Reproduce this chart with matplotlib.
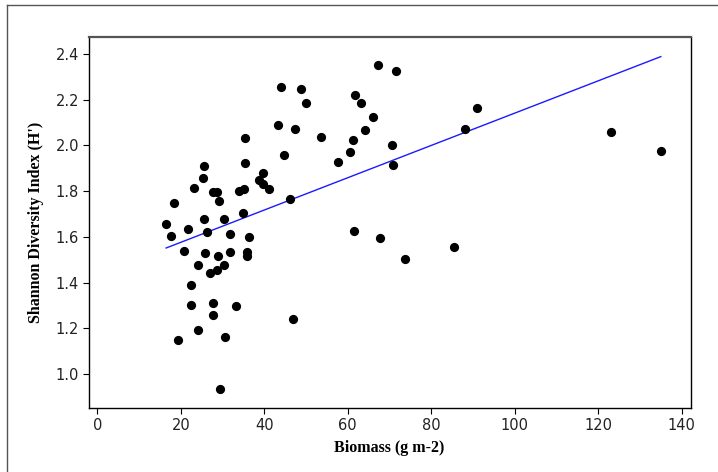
import numpy as np
import matplotlib.pyplot as plt
from matplotlib.lines import Line2D

# biomass (g m-2) and Shannon index per plot
biomass = [16.5, 17.7, 18.3, 19.3, 20.7, 21.7, 22.5, 22.5, 23.2, 24.1,
           24.1, 25.3, 25.6, 25.6, 25.9, 26.4, 27.1, 27.7, 27.7, 27.7,
           28.7, 28.8, 28.9, 29.2, 29.5, 30.4, 30.3, 30.7, 31.8, 31.9,
           33.3, 33.9, 35.2, 34.9, 35.4, 35.4, 35.8, 35.8, 36.4, 38.8,
           39.6, 39.7, 41.2, 43.2, 43.9, 44.8, 46.2, 46.9, 47.4, 48.7,
           50.1, 53.7, 57.6, 60.6, 61.2, 61.5, 61.8, 63.1, 64.2, 66.0,
           67.3, 67.8, 70.5, 70.8, 71.5, 73.6, 85.5, 88.2, 90.9, 123.0,
           135.0]
shannon = [1.658, 1.602, 1.749, 1.149, 1.539, 1.636, 1.389, 1.302, 1.812, 1.476,
           1.191, 1.855, 1.910, 1.678, 1.528, 1.619, 1.440, 1.310, 1.260, 1.796,
           1.796, 1.453, 1.514, 1.755, 0.934, 1.678, 1.476, 1.160, 1.614, 1.534,
           1.297, 1.801, 1.808, 1.706, 2.034, 1.921, 1.532, 1.518, 1.599, 1.849,
           1.877, 1.831, 1.808, 2.087, 2.253, 1.957, 1.764, 1.239, 2.071, 2.247,
           2.183, 2.038, 1.925, 1.973, 2.023, 1.626, 2.221, 2.183, 2.066, 2.124,
           2.350, 1.594, 2.001, 1.916, 2.323, 1.502, 1.556, 2.071, 2.162, 2.060,
           1.974]

# linear fit H' = a + b * biomass
fit_intercept = 1.4345
fit_slope = 0.007063

x_ticks = [0, 20, 40, 60, 80, 100, 120, 140]
y_ticks = [1.0, 1.2, 1.4, 1.6, 1.8, 2.0, 2.2, 2.4]

fig = plt.figure(figsize=(7.18, 4.72), dpi=100)
ax = fig.add_axes([0.1235, 0.135, 0.8393, 0.7872])

ax.scatter(biomass, shannon, s=44, color='black', zorder=3, linewidths=0)

xs = np.array([min(biomass), max(biomass)])
ax.plot(xs, fit_intercept + fit_slope * xs, color='#1a1aff', lw=1.0, zorder=2)

ax.set_xlim(-2.06, 142.3)
ax.set_ylim(0.85, 2.475)
ax.set_xticks(x_ticks)
ax.set_yticks(y_ticks)
ax.set_yticklabels(['%.1f' % v for v in y_ticks])
ax.tick_params(direction='out', length=4, width=0.8, labelsize=10.5,
               labelcolor='#222222', pad=3)

for side in ['left', 'bottom', 'right']:
    ax.spines[side].set_color('black')
    ax.spines[side].set_linewidth(1.0)
ax.spines['top'].set_color('#555555')
ax.spines['top'].set_linewidth(1.6)

lab_font = dict(family='Liberation Serif', weight='bold', size=11.5)
ax.set_xlabel('Biomass (g m-2)', fontdict=lab_font)
ax.set_ylabel("Shannon Diversity Index (H')", fontdict=lab_font)
ax.xaxis.set_label_coords(0.498, -0.085)
ax.yaxis.set_label_coords(-0.074, 0.5)

# outer frame (top and left edges)
fig.add_artist(Line2D([6.7 / 718, 1.0], [1 - 4.5 / 472, 1 - 4.5 / 472],
                      color='#555555', lw=1.0))
fig.add_artist(Line2D([6.7 / 718, 6.7 / 718], [0.0, 1 - 4.5 / 472],
                      color='#555555', lw=1.0))

fig.savefig('out.png', dpi=100)
